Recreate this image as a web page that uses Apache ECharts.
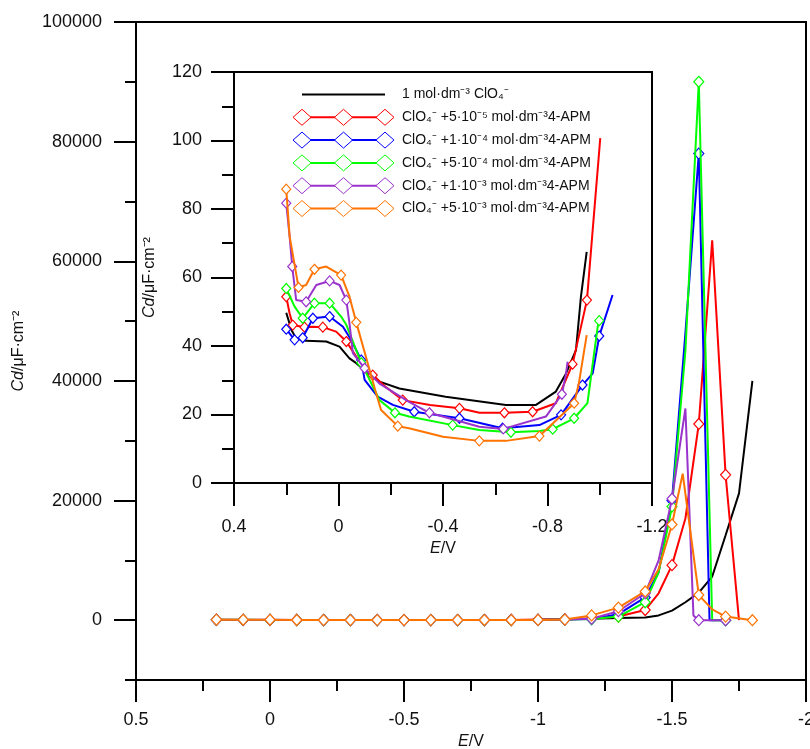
<!DOCTYPE html>
<html><head><meta charset="utf-8">
<script src="https://cdn.jsdelivr.net/npm/echarts@6/dist/echarts.min.js"></script>
<style>html,body{margin:0;padding:0;background:#fff}#c{width:810px;height:749px}</style>
</head><body><div id="c"></div>
<script>
// ---------- names & colours ----------
const seriesNames = [
  '1 mol·dm⁻³ ClO₄⁻',
  'ClO₄⁻ +5·10⁻⁵ mol·dm⁻³4-APM',
  'ClO₄⁻ +1·10⁻⁴ mol·dm⁻³4-APM',
  'ClO₄⁻ +5·10⁻⁴ mol·dm⁻³4-APM',
  'ClO₄⁻ +1·10⁻³ mol·dm⁻³4-APM',
  'ClO₄⁻ +5·10⁻³ mol·dm⁻³4-APM'
];
const seriesColors = ['#000000', '#ff0000', '#0000ff', '#00ff00', '#9933cc', '#ff7300'];

// ---------- main chart data (E/V, Cd) ----------
const mainBlackE = [0.2,0.1,0,-0.1,-0.2,-0.3,-0.4,-0.5,-0.6,-0.7,-0.8,-0.9,-1.0,-1.1,-1.2,-1.3,-1.4,-1.45,-1.5,-1.55,-1.6,-1.65,-1.7,-1.75,-1.8];
const mainBlackC = [50,41,40,32,28,27,25,24,23,23,26,39,70,150,250,350,450,800,1600,3000,4600,7300,14200,21200,40000];
const mainRedE = [0.2,0.1,0,-0.1,-0.2,-0.3,-0.4,-0.5,-0.6,-0.7,-0.8,-0.9,-1.0,-1.1,-1.2,-1.3,-1.4,-1.45,-1.5,-1.55,-1.6,-1.65,-1.7,-1.75];
const mainRedC = [54,46,44,33,25,23,22,21,20,21,23,35,100,150,300,600,1700,4500,9200,17000,32800,63500,24300,0];
const mainBlueE = [0.2,0.1,0,-0.1,-0.2,-0.3,-0.4,-0.5,-0.6,-0.7,-0.8,-0.9,-1.0,-1.1,-1.2,-1.3,-1.4,-1.45,-1.5,-1.55,-1.6,-1.64,-1.7];
const mainBlueC = [45,48,46,30,22,21,19,18,16,17,20,29,50,100,200,1000,3800,8000,20000,48000,78000,0,0];
const mainGreenE = [0.2,0.1,0,-0.1,-0.2,-0.3,-0.4,-0.5,-0.6,-0.7,-0.8,-0.9,-1.0,-1.1,-1.2,-1.3,-1.4,-1.45,-1.5,-1.55,-1.6,-1.65,-1.7];
const mainGreenC = [57,52,49,32,20,19,17,16,15,15,16,19,50,100,200,600,3000,8000,19000,45000,90000,0,0];
const mainPurpleE = [0.2,0.1,0,-0.1,-0.2,-0.3,-0.4,-0.5,-0.6,-0.7,-0.8,-0.9,-1.0,-1.1,-1.2,-1.3,-1.4,-1.45,-1.5,-1.55,-1.58,-1.6,-1.7];
const mainPurpleC = [82,53,58,34,26,23,20,18,16,18,24,35,40,100,250,1500,4500,10000,20300,35400,800,0,0];
const mainOrangeE = [0.2,0.1,0,-0.1,-0.2,-0.3,-0.4,-0.5,-0.6,-0.7,-0.8,-0.9,-1.0,-1.1,-1.2,-1.3,-1.4,-1.45,-1.5,-1.54,-1.6,-1.65,-1.7,-1.8];
const mainOrangeC = [86,62,61,30,17,16,14,12,12,14,20,23,50,100,800,2100,4800,8500,16000,24500,4200,1800,600,0];

// ---------- inset data (E/V, Cd) ----------
const insetBlackE = [0.2,0.18,0.162,0.124,0.047,-0.004,-0.042,-0.068,-0.106,-0.157,-0.233,-0.41,-0.641,-0.756,-0.832,-0.871,-0.909,-0.928,-0.95];
const insetBlackC = [49.7,44.7,42.2,41.5,41.3,39.8,36.4,35,32.5,29.6,27.6,25.2,22.8,22.8,26.7,32,38.8,54.4,67.5];
const insetRedE = [0.2,0.187,0.175,0.13,0.098,0.06,0.009,-0.03,-0.068,-0.1,-0.131,-0.18,-0.246,-0.35,-0.463,-0.54,-0.635,-0.743,-0.832,-0.896,-0.951,-0.973,-1.002];
const insetRedC = [54.4,49.5,46.1,45.5,45.6,45.5,44.2,41.3,36.9,33,31.5,28.1,24.2,22.8,21.8,20.5,20.5,20.8,23.3,34.7,53.4,73.9,100.7];
const insetRedMarks = [0,2,3,5,7,10,12,14,16,17,19,20];
const insetBlueE = [0.2,0.168,0.137,0.098,0.034,-0.017,-0.048,-0.087,-0.1,-0.15,-0.208,-0.29,-0.463,-0.628,-0.769,-0.852,-0.934,-0.973,-0.998,-1.049];
const insetBlueC = [44.9,41.8,42.4,48.1,48.6,45.6,41.8,35.9,30.1,25.2,22.8,20.8,18.9,16,16.9,19.9,28.6,32,42.9,54.9];
const insetBlueMarks = [0,1,2,3,4,7,11,12,13,15,16,18];
const insetGreenE = [0.2,0.168,0.137,0.092,0.034,-0.01,-0.03,-0.087,-0.119,-0.157,-0.216,-0.27,-0.437,-0.539,-0.66,-0.769,-0.82,-0.902,-0.953,-0.992,-0.998];
const insetGreenC = [56.8,51.5,48.1,52.5,52.5,48.6,46.2,35.1,30.1,24.2,20.5,19.4,16.9,15.5,14.8,15.2,15.7,18.9,23.3,45.6,47.4];
const insetGreenMarks = [0,2,3,4,7,10,12,14,16,17,20];
const insetPurpleE = [0.2,0.187,0.177,0.162,0.124,0.085,0.034,-0.004,-0.03,-0.042,-0.055,-0.1,-0.125,-0.157,-0.27,-0.348,-0.539,-0.631,-0.794,-0.855,-0.871,-0.877];
const insetPurpleC = [81.7,71.9,63.2,53.4,52.9,57.8,59,57.8,53.4,46.6,37.9,33.5,31.5,29,23.7,20.5,16.4,15.8,19.4,25.9,32,35.4];
const insetPurpleMarks = [0,2,4,6,8,11,15,17,19];
const insetOrangeE = [0.2,0.187,0.153,0.124,0.092,0.047,-0.01,-0.042,-0.068,-0.144,-0.163,-0.227,-0.27,-0.4,-0.539,-0.641,-0.769,-0.82,-0.902,-0.92,-0.95];
const insetOrangeC = [85.8,72,57.1,57.8,62.4,63.2,60.7,54.4,46.9,26.2,21.3,16.6,16,13.5,12.3,12.3,13.7,17.4,23.3,29.1,43.2];
const insetOrangeMarks = [0,2,4,6,8,11,14,16,18];

// ---------- axis ticks ----------
const mainYMajor = [0,20000,40000,60000,80000,100000];
const mainYMinor = [-10000,10000,30000,50000,70000,90000];

const FONT = '"Liberation Sans", Arial, sans-serif';
const zip = (xs, ys) => xs.map((x, i) => [x, ys[i]]);
const isTenth = v => Math.abs(v * 10 - Math.round(v * 10)) < 1e-6;
const plain = v => String(Math.round(v * 1000) / 1000);

const mainSets = [
  [mainBlackE, mainBlackC], [mainRedE, mainRedC], [mainBlueE, mainBlueC],
  [mainGreenE, mainGreenC], [mainPurpleE, mainPurpleC], [mainOrangeE, mainOrangeC]
];
const insetSets = [
  [insetBlackE, insetBlackC, []], [insetRedE, insetRedC, insetRedMarks], [insetBlueE, insetBlueC, insetBlueMarks],
  [insetGreenE, insetGreenC, insetGreenMarks], [insetPurpleE, insetPurpleC, insetPurpleMarks], [insetOrangeE, insetOrangeC, insetOrangeMarks]
];

const series = [];
mainSets.forEach(([e, c], i) => {
  series.push({
    type: 'line', xAxisIndex: 0, yAxisIndex: 0, name: seriesNames[i],
    data: zip(e, c),
    symbol: i === 0 ? 'none' : (v) => isTenth(v[0]) ? 'diamond' : 'none',
    symbolSize: [10, 11], showSymbol: i !== 0,
    lineStyle: { color: seriesColors[i], width: 2 },
    itemStyle: { color: '#fff', borderColor: seriesColors[i], borderWidth: 1.2 },
    emphasis: { disabled: true }, animation: false, z: 3 + i
  });
});
insetSets.forEach(([e, c, m], i) => {
  series.push({
    type: 'line', xAxisIndex: 1, yAxisIndex: 2, name: seriesNames[i] + ' ',
    data: zip(e, c),
    symbol: (v, p) => m.indexOf(p.dataIndex) >= 0 ? 'diamond' : 'none',
    symbolSize: [9, 10], showSymbol: i !== 0,
    lineStyle: { color: seriesColors[i], width: 2 },
    itemStyle: { color: '#fff', borderColor: seriesColors[i], borderWidth: 1.2 },
    emphasis: { disabled: true }, animation: false, z: 3 + i
  });
});

// ---------- legend drawn as graphics ----------
const legendEls = [];
const lx0 = 302, lx1 = 385, lxm = 343.5, ltx = 402, ly0 = 94.5, ldy = 22.8;
seriesNames.forEach((nm, i) => {
  const y = ly0 + i * ldy;
  legendEls.push({ type: 'line', shape: { x1: lx0, y1: y, x2: lx1, y2: y }, style: { stroke: seriesColors[i], lineWidth: 2 }, z: 50 });
  if (i > 0) {
    [lx0, lxm, lx1].forEach(cx => legendEls.push({
      type: 'polygon', shape: { points: [[cx, y - 8], [cx + 9, y], [cx, y + 8], [cx - 9, y]] },
      style: { fill: '#fff', stroke: seriesColors[i], lineWidth: 1 }, z: 51
    }));
  }
  legendEls.push({ type: 'text', x: ltx, y: y, style: { text: nm, font: '14px ' + FONT, fill: '#111', verticalAlign: 'middle' }, z: 52 });
});

const axisLine = { show: true, onZero: false, lineStyle: { color: '#000', width: 2 } };
const labelStyle = { color: '#111', fontSize: 18, fontFamily: FONT, formatter: plain };
const nameStyle = { color: '#111', fontSize: 16, fontFamily: FONT, rich: { i: { fontStyle: 'italic', fontSize: 16, fontFamily: FONT, color: '#111' } } };

const MAIN_LEFT = 136, MAIN_RIGHT = 4, W = 810;
const chart = echarts.init(document.getElementById('c'), null, { renderer: 'canvas' });
chart.setOption({
  backgroundColor: '#fff',
  animation: false,
  grid: [
    { left: MAIN_LEFT, right: MAIN_RIGHT, top: 22, bottom: 69, show: true, borderColor: '#000', borderWidth: 2,
      backgroundColor: 'transparent', containLabel: false, outerBoundsMode: 'none' },
    { left: 234, right: 158, top: 72, bottom: 266, show: true, borderColor: '#000', borderWidth: 2,
      backgroundColor: '#fff', z: 1, containLabel: false, outerBoundsMode: 'none' }
  ],
  xAxis: [
    { type: 'value', gridIndex: 0, position: 'bottom', min: -2, max: 0.5, interval: 0.5, inverse: true,
      axisLine, axisTick: { show: true, length: 22, lineStyle: { color: '#000', width: 2 } },
      minorTick: { show: true, splitNumber: 2, length: 11, lineStyle: { color: '#000', width: 2 } },
      axisLabel: { ...labelStyle, margin: 31 }, splitLine: { show: false }, minorSplitLine: { show: false },
      name: '{i|E}/V', nameLocation: 'middle', nameGap: 54, nameTextStyle: nameStyle },
    { type: 'value', gridIndex: 1, position: 'bottom', min: -1.2, max: 0.4, interval: 0.4, inverse: true,
      axisLine, axisTick: { show: true, length: 23, lineStyle: { color: '#000', width: 2 } },
      minorTick: { show: true, splitNumber: 2, length: 12, lineStyle: { color: '#000', width: 2 } },
      axisLabel: { ...labelStyle, margin: 35 }, splitLine: { show: false }, minorSplitLine: { show: false },
      name: '{i|E}/V', nameLocation: 'middle', nameGap: 56, nameTextStyle: nameStyle }
  ],
  yAxis: [
    { type: 'value', gridIndex: 0, position: 'left', min: -10000, max: 100000,
      axisLine, axisTick: { show: true, length: 22, customValues: mainYMajor, lineStyle: { color: '#000', width: 2 } },
      axisLabel: { ...labelStyle, margin: 34, customValues: mainYMajor }, splitLine: { show: false },
      name: '{i|Cd}/μF·cm⁻²', nameLocation: 'middle', nameGap: 109, nameTextStyle: nameStyle },
    { type: 'value', gridIndex: 0, position: 'right', offset: -(W - MAIN_LEFT - MAIN_RIGHT), min: -10000, max: 100000,
      axisLine: { show: false, onZero: false },
      axisTick: { show: true, inside: true, length: 11, customValues: mainYMinor, lineStyle: { color: '#000', width: 2 } },
      axisLabel: { show: false }, splitLine: { show: false } },
    { type: 'value', gridIndex: 1, position: 'left', min: 0, max: 120, interval: 20,
      axisLine, axisTick: { show: true, length: 23, lineStyle: { color: '#000', width: 2 } },
      minorTick: { show: true, splitNumber: 2, length: 12, lineStyle: { color: '#000', width: 2 } },
      axisLabel: { ...labelStyle, margin: 32 }, splitLine: { show: false }, minorSplitLine: { show: false },
      name: '{i|Cd}/μF·cm⁻²', nameLocation: 'middle', nameGap: 76, nameTextStyle: nameStyle }
  ],
  series,
  graphic: legendEls
});
</script></body></html>
